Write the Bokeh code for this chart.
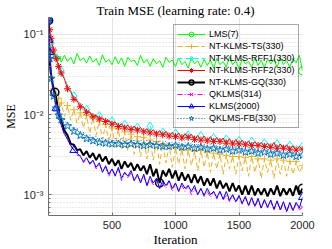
from bokeh.plotting import figure
from bokeh.models import Range1d, FixedTicker, Legend, LegendItem
from bokeh.embed import file_html
from bokeh.resources import INLINE

# ---- data ----
iters = [1, 5, 10, 15, 20, 30, 40, 50, 60, 70, 80, 90, 100,
         125, 150, 175, 200, 225, 250, 275, 300,
         325, 350, 375, 400, 425, 450, 475, 500,
         525, 550, 575, 600, 625, 650, 675, 700,
         725, 750, 775, 800, 825, 850, 875, 900,
         925, 950, 975, 1000, 1025, 1050, 1075, 1100,
         1125, 1150, 1175, 1200, 1225, 1250, 1275, 1300,
         1325, 1350, 1375, 1400, 1425, 1450, 1475, 1500,
         1525, 1550, 1575, 1600, 1625, 1650, 1675, 1700,
         1725, 1750, 1775, 1800, 1825, 1850, 1875, 1900,
         1925, 1950, 1975, 2000]

lms = [0.15, 0.11, 0.078, 0.064, 0.057, 0.061, 0.052, 0.058, 0.049, 0.056, 0.047, 0.054, 0.045,
       0.055, 0.046, 0.052, 0.043, 0.058, 0.047, 0.051, 0.044,
       0.054, 0.045, 0.05, 0.041, 0.056, 0.045, 0.049, 0.042,
       0.053, 0.043, 0.051, 0.04, 0.052, 0.046, 0.048, 0.041,
       0.055, 0.044, 0.049, 0.04, 0.05, 0.043, 0.047, 0.039,
       0.052, 0.045, 0.048, 0.04, 0.051, 0.042, 0.046, 0.038,
       0.051, 0.043, 0.047, 0.039, 0.049, 0.041, 0.048, 0.038,
       0.05, 0.042, 0.046, 0.039, 0.053, 0.042, 0.047, 0.037,
       0.05, 0.043, 0.046, 0.039, 0.051, 0.041, 0.048, 0.038,
       0.05, 0.043, 0.049, 0.039, 0.052, 0.042, 0.047, 0.039,
       0.05, 0.044, 0.055, 0.035]

nt_ts = [0.15, 0.09, 0.05, 0.036, 0.03, 0.024, 0.021, 0.017, 0.018, 0.014, 0.016, 0.012, 0.014,
         0.0095, 0.013, 0.0085, 0.0115, 0.0078, 0.0105, 0.0068, 0.0098,
         0.0058, 0.0092, 0.0055, 0.0083, 0.0049, 0.0075, 0.0045, 0.0068,
         0.0041, 0.0066, 0.0038, 0.0061, 0.0035, 0.0057, 0.0032, 0.0053,
         0.003, 0.0052, 0.0028, 0.0048, 0.0027, 0.0046, 0.0024, 0.0043,
         0.0025, 0.0041, 0.0022, 0.0039, 0.0024, 0.0037, 0.0021, 0.0036,
         0.0023, 0.0035, 0.002, 0.0036, 0.0022, 0.0034, 0.0019, 0.0033,
         0.0021, 0.0032, 0.0018, 0.0031, 0.0021, 0.003, 0.0018, 0.003,
         0.002, 0.0029, 0.0017, 0.003, 0.0019, 0.0028, 0.0016, 0.0028,
         0.0019, 0.0027, 0.0016, 0.0028, 0.0018, 0.0027, 0.0017, 0.0026,
         0.0018, 0.0026, 0.0019, 0.0023]

nt_rff1 = [0.15, 0.1, 0.085, 0.08, 0.078, 0.07, 0.062, 0.056, 0.051, 0.046, 0.042, 0.038, 0.035,
           0.029, 0.023, 0.02, 0.017, 0.0155, 0.0135, 0.0128, 0.0115,
           0.0105, 0.0102, 0.0093, 0.0096, 0.0086, 0.0089, 0.008, 0.0083,
           0.0074, 0.0079, 0.007, 0.0075, 0.0066, 0.0073, 0.0063, 0.0069,
           0.0062, 0.0068, 0.006, 0.0071, 0.0058, 0.0062, 0.0056, 0.006,
           0.0055, 0.0061, 0.0053, 0.0058, 0.0052, 0.0057, 0.0051, 0.0055,
           0.005, 0.0055, 0.0049, 0.0054, 0.0048, 0.0052, 0.0047, 0.0051,
           0.0046, 0.005, 0.0045, 0.0049, 0.0044, 0.0048, 0.0043, 0.0047,
           0.0043, 0.0047, 0.0042, 0.0046, 0.0041, 0.0045, 0.0041, 0.0044,
           0.004, 0.0044, 0.0039, 0.0043, 0.0039, 0.0042, 0.0038, 0.0041,
           0.0038, 0.0042, 0.0037, 0.004]

nt_rff2 = [0.15, 0.13, 0.115, 0.1, 0.09, 0.074, 0.064, 0.056, 0.05, 0.045, 0.04, 0.036, 0.033,
           0.028, 0.021, 0.0195, 0.0155, 0.015, 0.0125, 0.0124, 0.0107,
           0.0108, 0.0094, 0.0098, 0.0088, 0.0091, 0.0082, 0.0085, 0.0076,
           0.0081, 0.0071, 0.0077, 0.0068, 0.0074, 0.0065, 0.0072, 0.0064,
           0.0069, 0.0061, 0.0067, 0.0059, 0.0065, 0.0057, 0.0063, 0.0056,
           0.0062, 0.0054, 0.006, 0.0053, 0.0059, 0.0051, 0.0058, 0.0052,
           0.0057, 0.0049, 0.0055, 0.0048, 0.0054, 0.0047, 0.0053, 0.0046,
           0.0052, 0.0046, 0.0051, 0.0044, 0.005, 0.0043, 0.0049, 0.0043,
           0.0048, 0.0042, 0.0047, 0.0041, 0.0046, 0.0041, 0.0045, 0.004,
           0.0044, 0.0039, 0.0045, 0.0038, 0.0043, 0.0038, 0.0042, 0.0037,
           0.0041, 0.0036, 0.004, 0.0037]

nt_gq = [0.15, 0.075, 0.047, 0.036, 0.031, 0.025, 0.021, 0.019, 0.016, 0.013, 0.0115, 0.0094, 0.0087,
         0.0063, 0.0055, 0.0043, 0.0042, 0.0036, 0.0037, 0.0031, 0.0035,
         0.0029, 0.0033, 0.0027, 0.0032, 0.0026, 0.003, 0.0024, 0.0028,
         0.0023, 0.0027, 0.0021, 0.0026, 0.0022, 0.0025, 0.002, 0.0024,
         0.002, 0.0023, 0.0018, 0.0024, 0.0017, 0.0021, 0.0014, 0.002,
         0.0017, 0.0021, 0.0016, 0.002, 0.0015, 0.0019, 0.0015, 0.0018,
         0.0014, 0.0018, 0.0014, 0.0017, 0.0013, 0.0016, 0.0013, 0.0016,
         0.0012, 0.0015, 0.0012, 0.0014, 0.0011, 0.0014, 0.0011, 0.0013,
         0.001, 0.0013, 0.001, 0.0013, 0.00098, 0.0012, 0.001, 0.0012,
         0.00095, 0.0012, 0.001, 0.0013, 0.00096, 0.0012, 0.001, 0.0012,
         0.00097, 0.0013, 0.001, 0.0012]

qklms = [0.15, 0.1, 0.065, 0.048, 0.038, 0.027, 0.02, 0.016, 0.012, 0.0105, 0.0092, 0.0085, 0.0073,
         0.0056, 0.0051, 0.004, 0.0037, 0.0031, 0.0031, 0.0025, 0.0028,
         0.0025, 0.0026, 0.0021, 0.0024, 0.002, 0.0022, 0.0017, 0.0021,
         0.0018, 0.0021, 0.0015, 0.0019, 0.0016, 0.0019, 0.0015, 0.0017,
         0.0015, 0.0017, 0.0013, 0.0016, 0.0013, 0.0016, 0.0012, 0.0014,
         0.0012, 0.0015, 0.0011, 0.0014, 0.0011, 0.0013, 0.0011, 0.0013,
         0.001, 0.0012, 0.001, 0.0012, 0.00095, 0.0011, 0.00093, 0.0011,
         0.00088, 0.0011, 0.00085, 0.001, 0.00082, 0.00098, 0.0008, 0.00095,
         0.00076, 0.00092, 0.00072, 0.0009, 0.0007, 0.00087, 0.00067, 0.00085,
         0.00068, 0.00083, 0.00064, 0.00082, 0.00063, 0.0008, 0.0006, 0.00078,
         0.00062, 0.00078, 0.00065, 0.0007]

klms = [0.15, 0.085, 0.06, 0.045, 0.036, 0.026, 0.019, 0.015, 0.012, 0.011, 0.0094, 0.0087, 0.0074,
        0.0058, 0.0049, 0.0041, 0.0036, 0.0033, 0.003, 0.0026, 0.0029,
        0.0024, 0.0027, 0.0022, 0.0025, 0.0019, 0.0023, 0.0018, 0.0021,
        0.0017, 0.0022, 0.0016, 0.0019, 0.0017, 0.002, 0.0015, 0.0018,
        0.0014, 0.0018, 0.0013, 0.0017, 0.0014, 0.0016, 0.0012, 0.0015,
        0.0013, 0.0015, 0.0012, 0.0014, 0.0011, 0.0014, 0.0012, 0.0013,
        0.0011, 0.0013, 0.001, 0.0012, 0.00098, 0.0012, 0.001, 0.0011,
        0.00092, 0.0011, 0.00088, 0.0011, 0.00085, 0.001, 0.00082, 0.00098,
        0.00078, 0.00095, 0.00074, 0.00092, 0.00072, 0.0009, 0.00068, 0.00087,
        0.0007, 0.00086, 0.00066, 0.00084, 0.00065, 0.00082, 0.00062, 0.0008,
        0.00064, 0.0008, 0.00068, 0.00093]

qklms_fb = [0.15, 0.09, 0.05, 0.034, 0.028, 0.021, 0.017, 0.0145, 0.012, 0.0115, 0.0098, 0.0097, 0.0086,
            0.0088, 0.0072, 0.0076, 0.0062, 0.0068, 0.0055, 0.006, 0.005,
            0.0056, 0.0047, 0.0054, 0.0045, 0.0053, 0.0044, 0.0052, 0.0043,
            0.0051, 0.0043, 0.0052, 0.0042, 0.005, 0.0043, 0.0049, 0.0042,
            0.0049, 0.0041, 0.0048, 0.0042, 0.0047, 0.0041, 0.0048, 0.004,
            0.0047, 0.004, 0.0046, 0.0041, 0.0046, 0.0039, 0.0045, 0.004,
            0.0045, 0.0038, 0.0044, 0.0039, 0.0043, 0.0037, 0.0043, 0.0038,
            0.0042, 0.0036, 0.0041, 0.0037, 0.0041, 0.0035, 0.004, 0.0036,
            0.0039, 0.0034, 0.0039, 0.0035, 0.0038, 0.0033, 0.0037, 0.0034,
            0.0037, 0.0032, 0.0036, 0.0033, 0.0035, 0.0031, 0.0035, 0.0032,
            0.0034, 0.003, 0.0033, 0.0031]

labels = ["LMS(7)", "NT-KLMS-TS(330)", "NT-KLMS-RFF1(330)", "NT-KLMS-RFF2(330)",
          "NT-KLMS-GQ(330)", "QKLMS(314)", "KLMS(2000)", "QKLMS-FB(330)"]

x_ticks = [500, 1000, 1500, 2000]
y_ticks = [0.001, 0.01, 0.1]
y_tick_labels = ["10\u207b\u00b3", "10\u207b\u00b2", "10\u207b\u00b9"]

# ---- figure ----
p = figure(width=332, height=249, output_backend="svg", toolbar_location=None,
           y_axis_type="log", title="Train MSE (learning rate: 0.4)",
           x_range=Range1d(0, 2000), y_range=Range1d(5.5e-4, 0.163),
           min_border_left=43, min_border_right=30, min_border_top=13,
           min_border_bottom=33)
p.outline_line_color = None
p.background_fill_color = "white"
p.border_fill_color = "white"
p.title.align = "center"
p.title.text_font = "Liberation Serif"
p.title.text_font_size = "13px"
p.title.text_font_style = "normal"
p.title.text_color = "#000000"
p.title.text_line_height = 1.0
p.title.standoff = 0
p.title.offset = -2

series = [
    # values, color, dash, width, marker, msize, marker iters or step
    (lms, "#00ff00", "solid", 1, "circle", 8, [1, 2000]),
    (nt_ts, "#edb120", "5 3", 1, "cross", 7, 2),
    (nt_rff1, "#00ffff", "5 3", 1, "diamond", 9, 4),
    (nt_rff2, "#ff0000", "solid", 1, "asterisk", 7, 2),
    (nt_gq, "#000000", "solid", 2, "circle", 8, [1, 50, 875, 2000]),
    (qklms, "#ff00ff", "5 2 1 2", 1, "x", 6, [1, 15, 70, 2000]),
    (klms, "#0000ff", "solid", 1, "triangle", 8, [1, 5, 10, 60, 200, 2000]),
    (qklms_fb, "#0072bd", "1 2", 1, "star", 8, 2),
]

items = []
for (vals, col, dash, lw, mk, ms, mki), lab in zip(series, labels):
    assert len(vals) == len(iters), lab
    lr = p.line(iters, vals, line_color=col, line_width=lw, line_dash=dash)
    if isinstance(mki, int):
        idx = list(range(0, len(iters), mki))
    else:
        idx = [iters.index(v) for v in mki]
    mx = [iters[i] for i in idx]
    my = [vals[i] for i in idx]
    mr = p.scatter(mx, my, marker=mk, size=ms, line_color=col, fill_color=None,
                   line_width=1.5 if col == "#000000" else 1)
    items.append(LegendItem(label=lab, renderers=[lr, mr]))

# ---- axes ----
xa = p.xaxis[0]
ya = p.yaxis[0]
xa.ticker = FixedTicker(ticks=x_ticks)
ya.ticker = FixedTicker(ticks=y_ticks,
                        minor_ticks=[0.0006, 0.0007, 0.0008, 0.0009,
                                     0.002, 0.003, 0.004, 0.005, 0.006, 0.007, 0.008, 0.009,
                                     0.02, 0.03, 0.04, 0.05, 0.06, 0.07, 0.08, 0.09])
ya.major_label_overrides = {t: s for t, s in zip(y_ticks, y_tick_labels)}
xa.axis_label = "Iteration"
ya.axis_label = "MSE"
for ax in (xa, ya):
    ax.axis_line_color = "#6e6e6e"
    ax.major_tick_line_color = "#6e6e6e"
    ax.minor_tick_line_color = "#6e6e6e"
    ax.major_tick_in = 3
    ax.major_tick_out = 0
    ax.minor_tick_in = 2
    ax.minor_tick_out = 0
    ax.major_label_text_font = "Liberation Sans"
    ax.major_label_text_font_size = "11px"
    ax.major_label_text_color = "#262626"
    ax.axis_label_text_font = "Liberation Serif"
    ax.axis_label_text_font_style = "normal"
    ax.axis_label_text_color = "#000000"
    ax.major_label_standoff = 5
xa.minor_tick_line_color = None
xa.axis_label_text_font_size = "13px"
ya.axis_label_text_font_size = "12px"
xa.axis_label_standoff = 0
ya.axis_label_standoff = 3

p.xgrid.grid_line_color = "#e3e3e3"
p.ygrid.grid_line_color = "#e3e3e3"
p.ygrid.minor_grid_line_color = "#d6d6d6"
p.ygrid.minor_grid_line_dash = "1 2"

# ---- legend (transparent box: the LMS curve shows through, as in the reference) ----
legend = Legend(items=items, location=(125, 87), orientation="vertical",
                label_text_font="Liberation Sans", label_text_font_size="9px",
                label_text_color="#000000",
                label_height=12, glyph_height=12, glyph_width=28,
                label_standoff=4, spacing=0, padding=3, margin=0,
                border_line_color="#555555", border_line_width=1,
                background_fill_color="white", background_fill_alpha=0.0)
p.add_layout(legend)

open("out.html", "w").write(file_html(p, INLINE))
